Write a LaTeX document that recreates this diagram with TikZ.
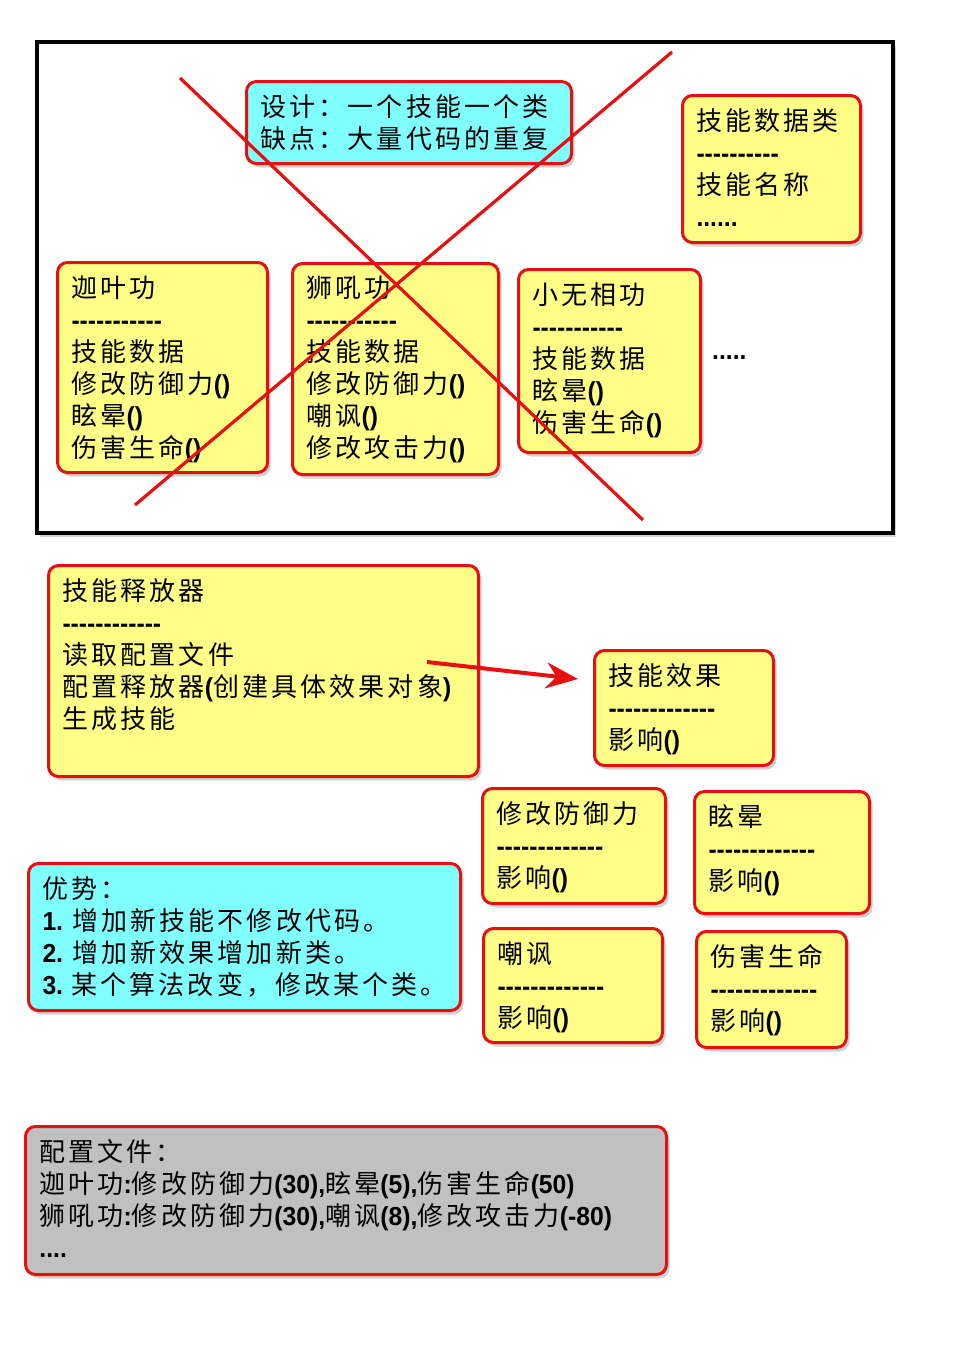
\documentclass[tikz,border=0pt]{standalone}
\usepackage{fontspec}
\setmainfont{Noto Sans CJK SC}[LetterSpace=12]
\newfontfamily\latf{Liberation Sans}[FakeStretch=0.95, Ligatures=TeXOff]
\newcommand\B[1]{{\latf\bfseries #1}}
\usetikzlibrary{arrows.meta,shadows}

\definecolor{cardyellow}{RGB}{255,255,136}
\definecolor{notecyan}{RGB}{128,255,255}
\definecolor{cfggray}{RGB}{192,192,192}
\definecolor{xred}{RGB}{230,16,16}

\tikzset{
  every node/.style={font=\fontsize{26}{32}\selectfont},
  card/.style={draw=xred, line width=3pt, rounded corners=10pt, fill=cardyellow,
    anchor=north west, inner xsep=14pt, inner ysep=13pt,
    drop shadow={shadow xshift=3pt, shadow yshift=-4pt, opacity=0.35}},
  note/.style={card, fill=notecyan},
  cfg/.style={card, fill=cfggray},
  frame/.style={draw=black, line width=4pt, fill=white, anchor=north west,
    drop shadow={shadow xshift=3pt, shadow yshift=-4pt, opacity=0.35}},
  cross/.style={draw=xred, line width=3.2pt},
  fatarrow/.style={draw=xred, line width=4pt, -{Stealth[length=32pt,width=26pt]}},
}

\begin{document}
\begin{tikzpicture}[x=1pt,y=-1pt]
	\fill[white] (0,0) rectangle (973,1346);
	\useasboundingbox (0,0) rectangle (973,1346);

	% old design, crossed out
	\node[frame, minimum width=856pt, minimum height=491pt] (board) at (35,40) {};
	\node[note] (design) at (245,80) {\parbox[t][56pt][t]{297pt}{设计：一个技能一个类\\缺点：大量代码的重复}};
	\node[card] (dataclass) at (681,94) {\parbox[t][121pt][t]{150pt}{技能数据类\\\B{----------}\\技能名称\\\B{......}}};
	\node[card] (jiaye) at (56,261) {\parbox[t][184pt][t]{182pt}{迦叶功\\\B{-----------}\\技能数据\\修改防御力\B{()}\\眩晕\B{()}\\伤害生命\B{()}}};
	\node[card] (shihou) at (291,262) {\parbox[t][185pt][t]{178pt}{狮吼功\\\B{-----------}\\技能数据\\修改防御力\B{()}\\嘲讽\B{()}\\修改攻击力\B{()}}};
	\node[card] (xiaowu) at (517,268) {\parbox[t][157pt][t]{154pt}{小无相功\\\B{-----------}\\技能数据\\眩晕\B{()}\\伤害生命\B{()}}};
	\node[anchor=base west, inner sep=0pt] (more) at (712,359) {\B{.....}};
	\draw[cross] (180,78) -- (643,520);
	\draw[cross] (672,52) -- (135,505);

	% new design
	\node[card] (releaser) at (47,564) {\parbox[t][185pt][t]{402pt}{技能释放器\\\B{------------}\\读取配置文件\\配置释放器\B{(}创建具体效果对象\B{)}\\生成技能}};
	\node[card] (effect) at (593,649) {\parbox[t][89pt][t]{151pt}{技能效果\\\B{-------------}\\影响\B{()}}};
	\node[card] (defense) at (481,787) {\parbox[t][89pt][t]{155pt}{修改防御力\\\B{-------------}\\影响\B{()}}};
	\node[card] (dizzy) at (693,790) {\parbox[t][96pt][t]{147pt}{眩晕\\\B{-------------}\\影响\B{()}}};
	\node[card] (taunt) at (482,927) {\parbox[t][88pt][t]{151pt}{嘲讽\\\B{-------------}\\影响\B{()}}};
	\node[card] (damage) at (695,930) {\parbox[t][90pt][t]{122pt}{伤害生命\\\B{-------------}\\影响\B{()}}};
	\coordinate (relstart) at (427,662);
	\draw[fatarrow] (relstart) -- ([shift={(-15,30)}]effect.north west);

	\node[note] (merit) at (27,862) {\parbox[t][121pt][t]{404pt}{优势：\\\B{1. }增加新技能不修改代码。\\\B{2. }增加新效果增加新类。\\\B{3. }某个算法改变，修改某个类。}};
	\node[cfg] (config) at (24,1125) {\parbox[t][122pt][t]{613pt}{配置文件：\\迦叶功\B{:}修改防御力\B{(30),}眩晕\B{(5),}伤害生命\B{(50)}\\狮吼功\B{:}修改防御力\B{(30),}嘲讽\B{(8),}修改攻击力\B{(-80)}\\\B{....}}};
\end{tikzpicture}
\end{document}
